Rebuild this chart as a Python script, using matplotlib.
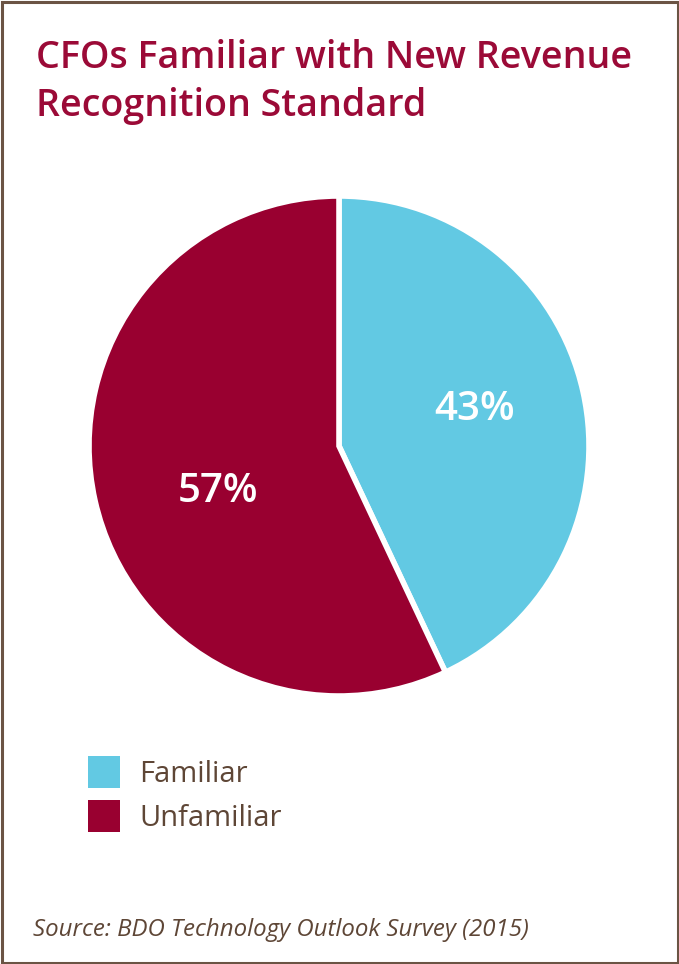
import matplotlib
matplotlib.use("Agg")
import matplotlib.pyplot as plt
from matplotlib.patches import Rectangle

categories = ["Familiar", "Unfamiliar"]
values = [43, 57]
colors = ["#62C9E3", "#990030"]
title = "CFOs Familiar with New Revenue\nRecognition Standard"
source = "Source: BDO Technology Outlook Survey (2015)"

W, H = 679, 964
fig = plt.figure(figsize=(W / 100, H / 100), dpi=100)
fig.patch.set_facecolor("white")

# border
fig.add_artist(Rectangle((1.5 / W, 1.5 / H), 1 - 3 / W, 1 - 3 / H, transform=fig.transFigure,
                         fill=False, edgecolor="#6B5444", linewidth=2.2))

fam = ["Open Sans", "DejaVu Sans"]
brown = "#5E4636"

fig.text(36 / W, 1 - 39 / H, title, ha="left", va="top", fontsize=27.1, color="#9B0A37",
         family=fam, weight="semibold", linespacing=1.33)

cx, cy, r = 339, 446, 250
ax = fig.add_axes([(cx - r) / W, (H - cy - r) / H, 2 * r / W, 2 * r / H])
wedges, texts, autotexts = ax.pie(values, colors=colors, startangle=90, counterclock=False,
                                  autopct="%d%%", pctdistance=0.56,
                                  wedgeprops=dict(edgecolor="white", linewidth=4))
label_pos = [(0.544, 0.144), (-0.484, -0.184)]
for t, p in zip(autotexts, label_pos):
    t.set_position(p)
    t.set_color("white")
    t.set_fontsize(29)
    t.set_fontfamily(fam)
    t.set_fontweight("semibold")
for w in wedges:
    w.set_clip_on(False)
ax.set_aspect("equal")
ax.set_xlim(-1.0, 1.0)
ax.set_ylim(-1.0, 1.0)
ax.axis("off")

# legend
for i, (lab, c) in enumerate(zip(categories, colors)):
    y0 = 756 + i * 44
    fig.add_artist(Rectangle((88 / W, 1 - (y0 + 32) / H), 32 / W, 32 / H,
                             transform=fig.transFigure, facecolor=c, edgecolor="none"))
    fig.text(139 / W, 1 - (y0 + 19) / H, lab, ha="left", va="center", fontsize=21,
             color=brown, family=fam)

fig.text(33 / W, 1 - 930 / H, source, ha="left", va="center", fontsize=17.3, color=brown,
         family=fam, style="italic")

fig.savefig("out.png", dpi=100, facecolor="white")
